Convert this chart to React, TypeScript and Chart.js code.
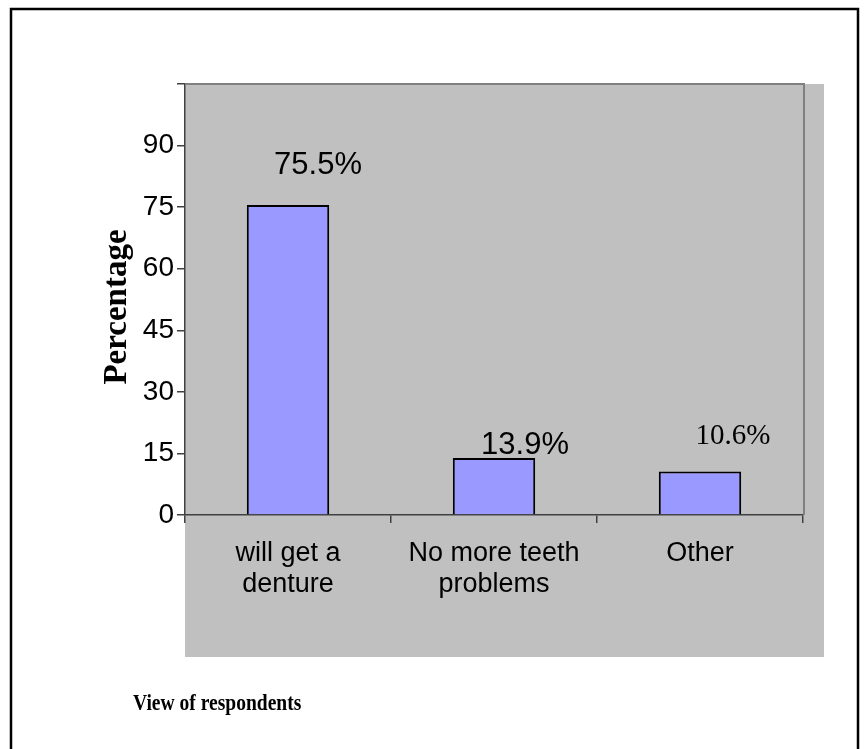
import { useEffect, useRef } from "react";
import { Chart, registerables } from "chart.js";

Chart.register(...registerables);

// Survey answers and their share of respondents (%)
const categories: string[][] = [["will get a", "denture"], ["No more teeth", "problems"], ["Other"]];
const percentages: number[] = [75.5, 13.9, 10.6];
const valueLabels: string[] = ["75.5%", "13.9%", "10.6%"];
const yTickStep = 15;
const yMax = 105;
const yTitle = "Percentage";
const xTitle = "View of respondents";

const SANS = "'Liberation Sans', Arial, sans-serif";
const SERIF = "'Liberation Serif', 'Times New Roman', serif";

// placement of each value label relative to the top-centre of its bar
const labelOffsets = [
  { dx: 30, dy: 40, font: `31px ${SANS}` },
  { dx: 31, dy: 12, font: `31px ${SANS}` },
  { dx: 33, dy: 35, font: `29px ${SERIF}` },
];

const framePlugin = {
  id: "frame",
  beforeDraw(chart: Chart) {
    const { ctx, chartArea } = chart;
    ctx.save();
    ctx.fillStyle = "#ffffff";
    ctx.fillRect(0, 0, chart.width, chart.height);
    // grey panel behind plot and category labels
    ctx.fillStyle = "#c0c0c0";
    ctx.fillRect(chartArea.left, chartArea.top, chartArea.right + 21 - chartArea.left, 657 - chartArea.top);
    // outer black frame
    ctx.strokeStyle = "#000000";
    ctx.lineWidth = 2.5;
    ctx.beginPath();
    ctx.moveTo(11, chart.height + 2);
    ctx.lineTo(11, 9);
    ctx.lineTo(858, 9);
    ctx.lineTo(858, chart.height + 2);
    ctx.stroke();
    ctx.restore();
  },
  afterDraw(chart: Chart) {
    const { ctx, chartArea } = chart;
    ctx.save();
    // plot-area border on top and right
    ctx.strokeStyle = "#808080";
    ctx.lineWidth = 2;
    ctx.beginPath();
    ctx.moveTo(chartArea.left, chartArea.top);
    ctx.lineTo(chartArea.right + 1, chartArea.top);
    ctx.lineTo(chartArea.right + 1, chartArea.bottom);
    ctx.stroke();
    // value labels above bars
    const meta = chart.getDatasetMeta(0);
    ctx.fillStyle = "#000000";
    ctx.textAlign = "center";
    ctx.textBaseline = "middle";
    meta.data.forEach((bar: any, i: number) => {
      const o = labelOffsets[i];
      ctx.font = o.font;
      ctx.fillText(valueLabels[i], bar.x + o.dx, bar.y - o.dy);
    });
    // value axis title, rotated
    ctx.save();
    ctx.translate(117, 307);
    ctx.rotate(-Math.PI / 2);
    ctx.font = `bold 33px ${SERIF}`;
    ctx.fillText(yTitle, 0, 0);
    ctx.restore();
    // category axis title
    ctx.save();
    ctx.translate(133, 710);
    ctx.scale(0.85, 1);
    ctx.font = `bold 23px ${SERIF}`;
    ctx.textAlign = "left";
    ctx.textBaseline = "alphabetic";
    ctx.fillText(xTitle, 0, 0);
    ctx.restore();
    ctx.restore();
  },
};

export default function App() {
  const canvasRef = useRef<HTMLCanvasElement | null>(null);

  useEffect(() => {
    if (!canvasRef.current) return;
    const chart = new Chart(canvasRef.current, {
      type: "bar",
      data: {
        labels: categories,
        datasets: [
          {
            data: percentages,
            backgroundColor: "#9999ff",
            borderColor: "#000000",
            borderWidth: 2,
            barPercentage: 0.4,
            categoryPercentage: 1,
          },
        ],
      },
      options: {
        responsive: false,
        animation: false,
        devicePixelRatio: 1,
        layout: { padding: { left: 0, top: 84, right: 64, bottom: 0 } },
        plugins: {
          legend: { display: false },
          tooltip: { enabled: false },
          title: { display: false },
        },
        scales: {
          x: {
            afterFit: (scale: any) => {
              scale.height = 234;
            },
            grid: {
              offset: true,
              drawOnChartArea: false,
              drawTicks: true,
              tickLength: 8,
              color: "#404040",
              lineWidth: 1.5,
            },
            border: { color: "#404040", width: 1.5 },
            ticks: {
              color: "#000000",
              font: { family: SANS, size: 27, lineHeight: 1.15 },
              padding: 15,
              maxRotation: 0,
              autoSkip: false,
            },
          },
          y: {
            min: 0,
            max: yMax,
            afterFit: (scale: any) => {
              scale.width = 185;
            },
            grid: {
              drawOnChartArea: false,
              drawTicks: true,
              tickLength: 8,
              color: "#404040",
              lineWidth: 1.5,
            },
            border: { color: "#404040", width: 1.5 },
            ticks: {
              stepSize: yTickStep,
              color: "#000000",
              font: { family: SANS, size: 28 },
              padding: 3,
              callback: (v: any) => (Number(v) >= yMax ? "" : String(v)),
            },
          },
        },
      },
      plugins: [framePlugin],
    });
    return () => chart.destroy();
  }, []);

  return (
    <div style={{ position: "absolute", left: 0, top: 0, width: 867, height: 749, background: "#ffffff" }}>
      <canvas ref={canvasRef} width={867} height={749} style={{ display: "block" }} />
    </div>
  );
}
